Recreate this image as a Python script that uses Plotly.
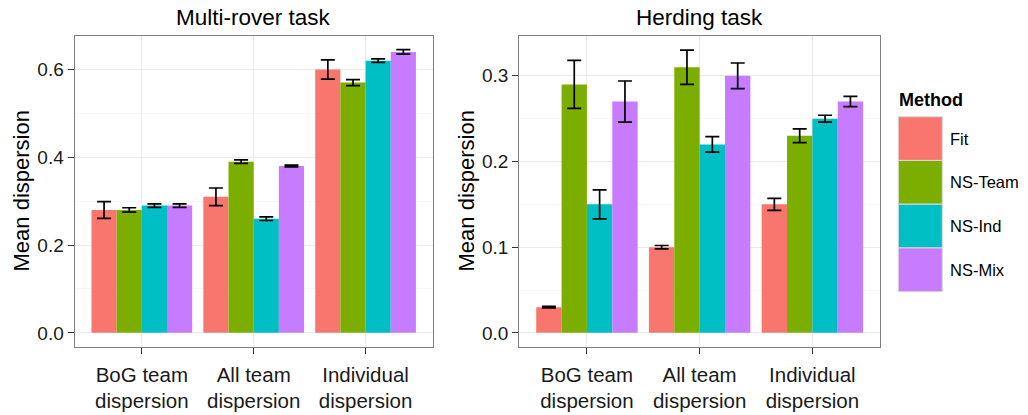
import plotly.graph_objects as go

# Dispersion results per task, behaviour measure and method (mean and error)
categories = ["BoG team<br>dispersion", "All team<br>dispersion", "Individual<br>dispersion"]
methods = ["Fit", "NS-Team", "NS-Ind", "NS-Mix"]
colors = ["#F8766D", "#7CAE00", "#00BFC4", "#C77CFF"]

rover_fit = [0.28, 0.31, 0.60]
rover_team = [0.28, 0.39, 0.57]
rover_ind = [0.29, 0.26, 0.62]
rover_mix = [0.29, 0.38, 0.64]
rover_fit_err = [0.019, 0.020, 0.022]
rover_team_err = [0.005, 0.004, 0.007]
rover_ind_err = [0.004, 0.004, 0.004]
rover_mix_err = [0.004, 0.002, 0.005]

herd_fit = [0.03, 0.10, 0.15]
herd_team = [0.29, 0.31, 0.23]
herd_ind = [0.15, 0.22, 0.25]
herd_mix = [0.27, 0.30, 0.27]
herd_fit_err = [0.001, 0.002, 0.007]
herd_team_err = [0.028, 0.020, 0.008]
herd_ind_err = [0.017, 0.009, 0.004]
herd_mix_err = [0.024, 0.015, 0.006]

rover_tick_vals = [0.0, 0.2, 0.4, 0.6]
herd_tick_vals = [0.0, 0.1, 0.2, 0.3]

W, H = 1028, 415
FONT = "Liberation Sans, Arial, Helvetica, sans-serif"


def px_x(v):
    return v / W


def px_y(v):
    return 1 - v / H


fig = go.Figure()

panels = [
    ("x", "y", [rover_fit, rover_team, rover_ind, rover_mix],
     [rover_fit_err, rover_team_err, rover_ind_err, rover_mix_err]),
    ("x2", "y2", [herd_fit, herd_team, herd_ind, herd_mix],
     [herd_fit_err, herd_team_err, herd_ind_err, herd_mix_err]),
]
for xa, ya, series, errors in panels:
    for name, color, vals, errs in zip(methods, colors, series, errors):
        fig.add_trace(go.Bar(
            x=categories, y=vals, name=name, xaxis=xa, yaxis=ya,
            marker=dict(color=color, line=dict(width=0)),
            error_y=dict(type="data", array=errs, visible=True,
                         color="black", thickness=1.7, width=7),
            showlegend=False,
        ))

y_dom = [px_y(347), px_y(36)]
common_x = dict(
    type="category", range=[-0.6, 2.6], showgrid=True, gridcolor="#EBEBEB",
    gridwidth=1, ticks="outside", ticklen=6, tickcolor="#333333", tickwidth=1.3,
    showline=True, mirror=True, linecolor="#7F7F7F", linewidth=1.3,
    tickfont=dict(family=FONT, size=20.5, color="#1A1A1A"), zeroline=False,
    automargin=False, ticklabelstandoff=3,
)
common_y = dict(
    showgrid=True, gridcolor="#EBEBEB", gridwidth=1, ticks="outside",
    ticklen=6, tickcolor="#333333", tickwidth=1.3, showline=True, mirror=True,
    linecolor="#7F7F7F", linewidth=1.3, zeroline=False, tickformat=".1f",
    tickfont=dict(family=FONT, size=19, color="#1A1A1A"), domain=y_dom,
    automargin=False,
)

fig.update_layout(
    width=W, height=H,
    margin=dict(l=0, r=0, t=0, b=0),
    paper_bgcolor="white", plot_bgcolor="white",
    barmode="group", bargap=0.1, bargroupgap=0,
    font=dict(family=FONT, color="black"),
    xaxis=dict(common_x, domain=[px_x(74.7), px_x(432.7)], anchor="y"),
    xaxis2=dict(common_x, domain=[px_x(519.3), px_x(880)], anchor="y2"),
    yaxis=dict(common_y, range=[-0.0322, 0.6762], tickvals=rover_tick_vals,
               minor=dict(dtick=0.1, tick0=0.1, showgrid=True,
                          gridcolor="#F7F7F7", ticks=""), anchor="x"),
    yaxis2=dict(common_y, range=[-0.0165, 0.3465], tickvals=herd_tick_vals,
                minor=dict(dtick=0.05, tick0=0.05, showgrid=True,
                           gridcolor="#F7F7F7", ticks=""), anchor="x2"),
)

# Panel titles and axis titles
annotations = [
    dict(text="Multi-rover task", x=px_x(253.7), y=px_y(17), font=dict(size=22.5)),
    dict(text="Herding task", x=px_x(699.7), y=px_y(17), font=dict(size=22.5)),
    dict(text="Mean dispersion", x=px_x(21), y=px_y(191.5), textangle=-90,
         font=dict(size=22)),
    dict(text="Mean dispersion", x=px_x(466), y=px_y(191.5), textangle=-90,
         font=dict(size=22)),
    dict(text="<b>Method</b>", x=px_x(897), y=px_y(100), xanchor="left",
         font=dict(size=18)),
]

# Legend drawn as colour keys with labels
shapes = []
key_top, key_h = 116.7, 43.75
for i, (name, color) in enumerate(zip(methods, colors)):
    y0 = key_top + i * key_h
    shapes.append(dict(type="rect", xref="paper", yref="paper",
                       x0=px_x(898.3), x1=px_x(942.3),
                       y0=px_y(y0 + key_h), y1=px_y(y0),
                       fillcolor=color, line=dict(color="#D9D9D9", width=1)))
    annotations.append(dict(text=name, x=px_x(948), y=px_y(y0 + key_h / 2),
                            xanchor="left", font=dict(size=16.5)))

for a in annotations:
    a.setdefault("xanchor", "center")
    a.update(xref="paper", yref="paper", yanchor="middle", showarrow=False)
    a["font"] = dict(family=FONT, color="black", **a["font"])

fig.update_layout(annotations=annotations, shapes=shapes)

fig.write_html("out.html")
